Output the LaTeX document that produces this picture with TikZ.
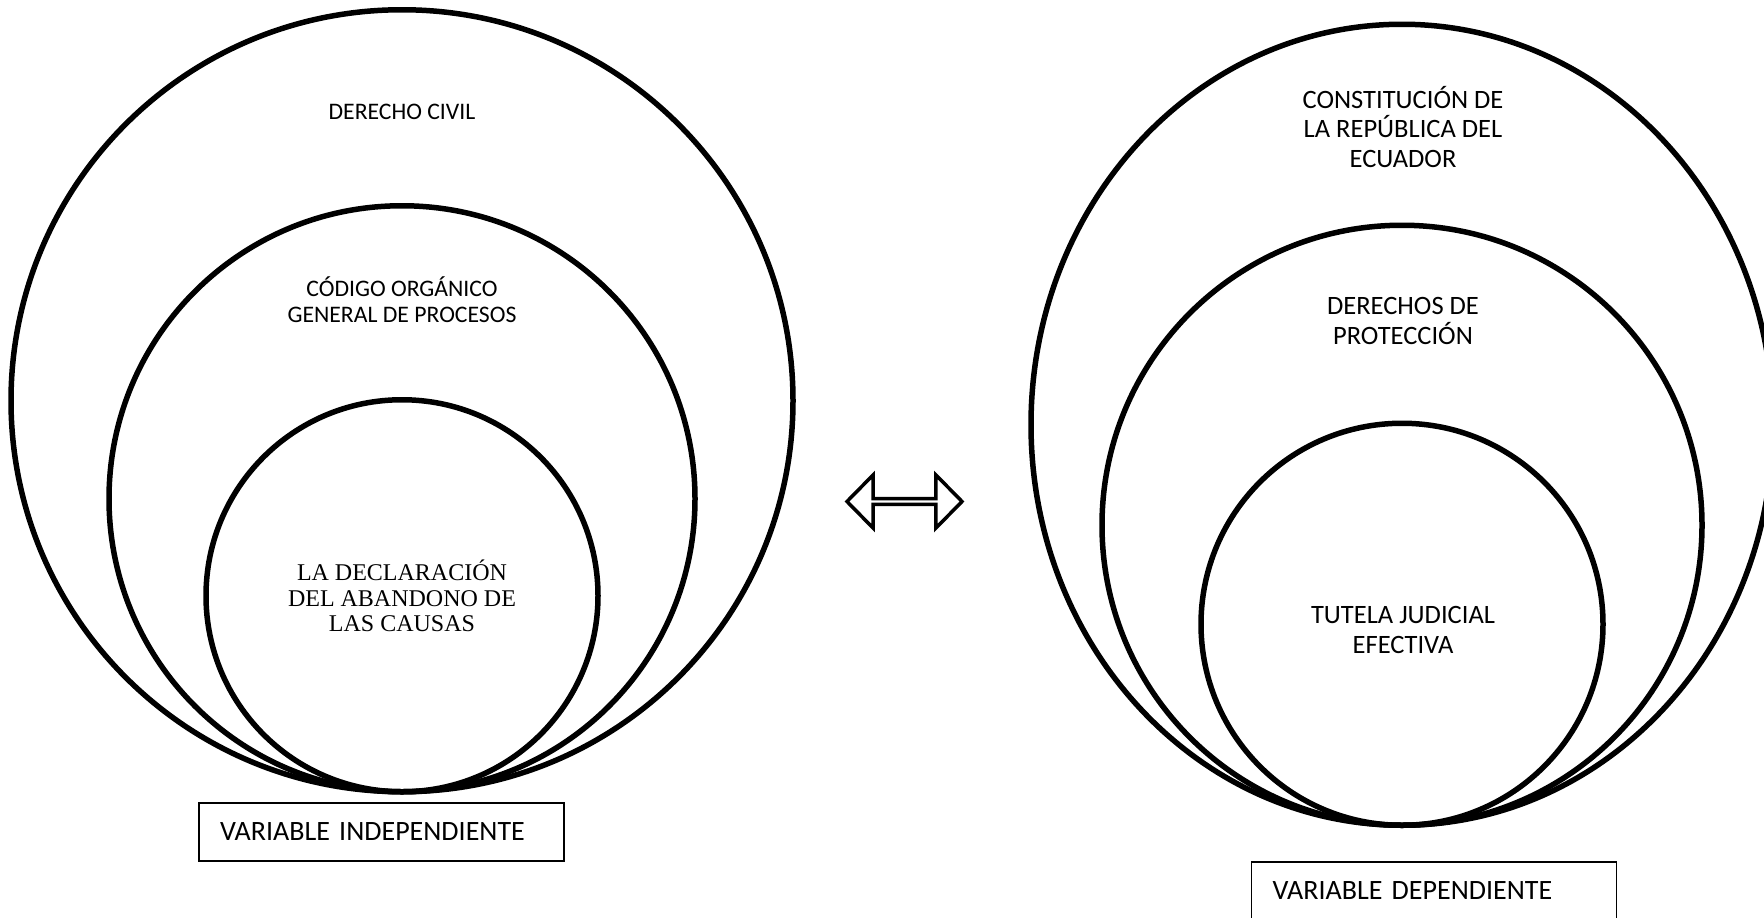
\documentclass[tikz,border=0pt]{standalone}
\usepackage{fontspec}
\setmainfont{Carlito}
\newfontfamily\timesfont{Liberation Serif}
\usetikzlibrary{shapes.geometric, shapes.arrows, positioning}

\begin{document}
\begin{tikzpicture}[
        x=1pt, y=-1pt,
        ring/.style={circle, draw, line width=5.5pt, inner sep=0pt, anchor=south},
        oval/.style={ellipse, draw, line width=5.5pt, inner sep=0pt, anchor=south},
        lbl/.style={align=center, inner sep=0pt, font=\fontsize{23.7}{26}\selectfont},
        rlbl/.style={align=center, inner sep=0pt, font=\fontsize{26.5}{29.5}\selectfont},
        varbox/.style={rectangle, draw, line width=1.3pt, minimum height=58pt, text width=323pt,
            inner xsep=21pt, align=left, font=\fontsize{28}{30}\selectfont}
    ]
    \clip (0,0) rectangle (1764,918);

    % Left group: circles touching at the bottom
    \coordinate (lbase) at (402,794.5);
    \node[ring, minimum size=782pt] (civil) at (lbase) {};
    \node[ring, minimum size=586pt] (cogep) at (lbase) {};
    \node[ring, minimum size=392pt] (abandono) at (lbase) {};

    \node[lbl] (civiltxt) at (402,112) {DERECHO CIVIL};
    \node[lbl] (cogeptxt) at (402,300) {CÓDIGO ORGÁNICO\\GENERAL DE PROCESOS};
    \node[align=center, inner sep=0pt, font=\timesfont\fontsize{24}{25.5}\selectfont] (abandonotxt) at (402,596)
        {LA DECLARACIÓN\\DEL ABANDONO DE\\LAS CAUSAS};

    % Right group
    \coordinate (rbase) at (1402,828);
    \node[oval, minimum width=742pt, minimum height=801pt] (constitucion) at (rbase) {};
    \node[ring, minimum size=600pt] (proteccion) at (rbase) {};
    \node[ring, minimum size=402pt] (tutela) at (rbase) {};

    \node[rlbl] (constituciontxt) at (1403,127) {CONSTITUCIÓN DE\\LA REPÚBLICA DEL\\ECUADOR};
    \node[rlbl] (protecciontxt) at (1403,321) {DERECHOS DE\\PROTECCIÓN};
    \node[rlbl] (tutelatxt) at (1403,630) {TUTELA JUDICIAL\\EFECTIVA};

    % Double arrow between the groups
    \node[double arrow, draw, line width=3.5pt, inner sep=0pt, minimum height=115pt, minimum width=53pt,
        double arrow head extend=15pt, double arrow tip angle=91] (rel) at (904.5,501.5) {};

    % Variable boxes
    \node[varbox] (indep) at (381.5,832) {VARIABLE INDEPENDIENTE};
    \node[varbox] (dep) at (1434,891) {VARIABLE DEPENDIENTE};

\end{tikzpicture}
\end{document}
